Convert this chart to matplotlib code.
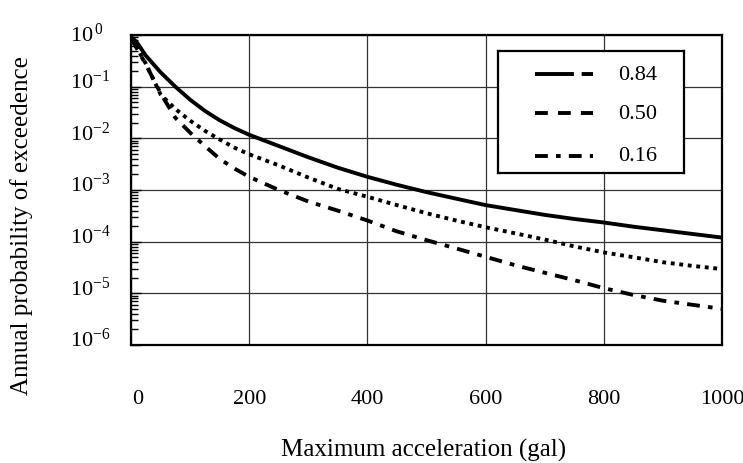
import math
import matplotlib
matplotlib.use("Agg")
import matplotlib.pyplot as plt
from matplotlib.ticker import FixedLocator, LogLocator, NullFormatter
from matplotlib.transforms import ScaledTranslation

plt.rcParams['font.family'] = ['Liberation Serif', 'DejaVu Serif']
plt.rcParams['mathtext.fontset'] = 'custom'
plt.rcParams['mathtext.rm'] = 'Liberation Serif'
plt.rcParams['mathtext.it'] = 'Liberation Serif:italic'

# maximum acceleration (gal)
accel = [0, 10, 25, 50, 75, 100, 125, 150, 175, 200, 250, 300, 350, 400, 450,
         500, 550, 600, 650, 700, 750, 800, 850, 900, 950, 1000]

# annual probability of exceedence, per fractile
p084 = [0.93, 0.72, 0.40, 0.19, 0.10, 0.056, 0.034, 0.0224, 0.0158, 0.0117,
        7.1e-3, 4.3e-3, 2.7e-3, 1.8e-3, 1.26e-3, 9.1e-4, 6.8e-4, 5.1e-4,
        4.1e-4, 3.3e-4, 2.75e-4, 2.35e-4, 1.95e-4, 1.66e-4, 1.41e-4, 1.2e-4]
p050 = [0.85, 0.56, 0.28, 0.071, 0.037, 0.022, 0.014, 0.0095, 0.0066, 0.0049,
        3.0e-3, 1.74e-3, 1.05e-3, 7.4e-4, 5.1e-4, 3.55e-4, 2.57e-4, 1.9e-4,
        1.45e-4, 1.1e-4, 8.1e-5, 6.2e-5, 5.0e-5, 4.0e-5, 3.4e-5, 2.95e-5]
p016 = [0.85, 0.55, 0.27, 0.075, 0.025, 0.0129, 0.0071, 0.004, 0.0026, 1.8e-3,
        1.0e-3, 6.0e-4, 3.98e-4, 2.57e-4, 1.58e-4, 1.07e-4, 7.4e-5, 5.1e-5,
        3.5e-5, 2.5e-5, 1.8e-5, 1.26e-5, 9.3e-6, 7.2e-6, 6.0e-6, 5.0e-6]

fractiles = ["0.84", "0.50", "0.16"]
xticks = [0, 200, 400, 600, 800, 1000]
yticks = [1e0, 1e-1, 1e-2, 1e-3, 1e-4, 1e-5, 1e-6]

lw = 2.8
curve_dashes = [None, (1.0, 1.2), (3.3, 2.1, 1.2, 2.1)]
legend_dashes = [(10, 2), (3.3, 2.6), (3.3, 2.1, 1.2, 2.1)]

fig = plt.figure(figsize=(7.43, 4.64), dpi=100)
ax = fig.add_axes([131/743, 1 - 346/464, 591/743, 310/464])

for ys, d in zip([p084, p050, p016], curve_dashes):
    line, = ax.plot(accel, ys, color='black', lw=lw, solid_capstyle='butt',
                    dash_capstyle='butt', solid_joinstyle='round')
    if d is not None:
        line.set_dashes(d)

ax.set_yscale('log')
ax.set_xlim(0, 1000)
ax.set_ylim(1e-6, 1e0)

ax.xaxis.set_major_locator(FixedLocator(xticks))
ax.yaxis.set_major_locator(FixedLocator(yticks))
ax.yaxis.set_minor_locator(LogLocator(base=10, subs=range(2, 10)))
ax.yaxis.set_minor_formatter(NullFormatter())
ax.set_xticklabels([str(v) for v in xticks])
ylabels = []
for v in yticks:
    e = round(math.log10(v))
    ylabels.append(r'$10^{\,0}$' if e == 0 else r'$10^{%d}$' % e)
ax.set_yticklabels(ylabels)

ax.grid(True, which='major', color='#333333', lw=0.9)
ax.tick_params(axis='x', which='both', length=0, pad=32, labelsize=16)
ax.tick_params(axis='y', which='major', direction='in', length=7, width=1,
               pad=44, labelsize=16)
ax.tick_params(axis='y', which='minor', direction='in', length=5, width=1)
for s in ax.spines.values():
    s.set_linewidth(1.6)

# y tick labels: left aligned, sitting a little above their gridlines
for lab, v in zip(ax.get_yticklabels(), yticks):
    lab.set_horizontalalignment('left')
    up = 3 if v == 1e0 else 8
    lab.set_transform(lab.get_transform() + ScaledTranslation(0, up/100, fig.dpi_scale_trans))
xl = ax.get_xticklabels()[0]
xl.set_transform(xl.get_transform() + ScaledTranslation(7/100, 0, fig.dpi_scale_trans))

fig.text(424/743, 1 - 450/464, "Maximum acceleration (gal)", ha='center',
         va='center', fontsize=18)
fig.text(22/743, 1 - 226/464, "Annual probability of exceedence", ha='center',
         va='center', rotation=90, fontsize=18)

# legend box
lax = fig.add_axes([498/743, 1 - 174/464, 186/743, 122/464])
lax.set_xlim(0, 1)
lax.set_ylim(0, 1)
lax.set_xticks([])
lax.set_yticks([])
for s in lax.spines.values():
    s.set_linewidth(1.6)
rows = [0.81, 0.49, 0.14]
for name, d, yy in zip(fractiles, legend_dashes, rows):
    l, = lax.plot([0.2, 0.51], [yy, yy], color='black', lw=lw,
                  dash_capstyle='butt', solid_capstyle='butt')
    l.set_dashes(d)
    lax.text(0.645, yy, name, ha='left', va='center', fontsize=16)

fig.savefig("out.png", dpi=100)
